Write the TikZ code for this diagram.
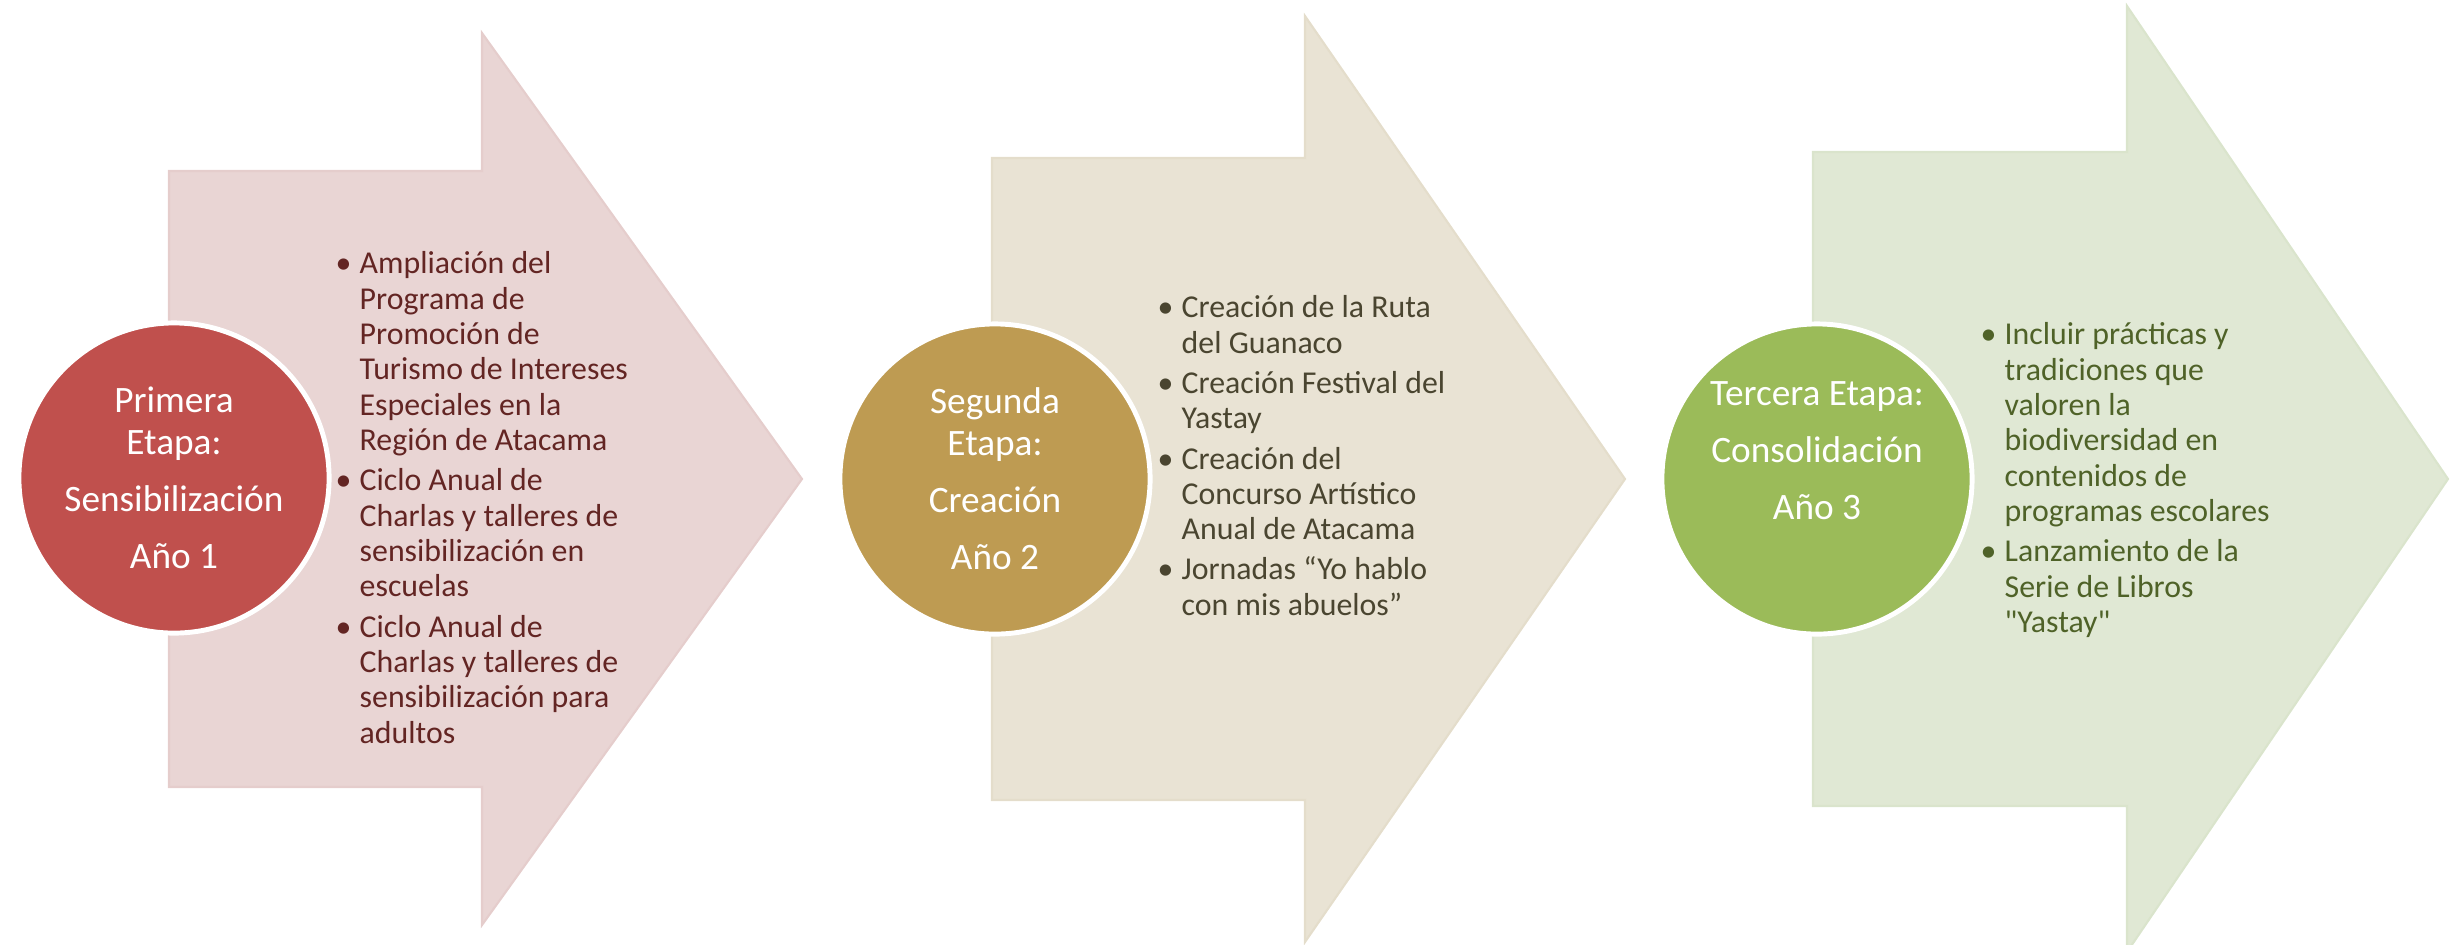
\documentclass[tikz,border=0pt]{standalone}
\usepackage{fontspec}
\setmainfont{Carlito}[Ligatures=TeXOff]
\usepackage{xcolor}

\definecolor{flechaUno}{HTML}{E9D5D4}
\definecolor{bordeUno}{HTML}{E5CDCC}
\definecolor{flechaDos}{HTML}{E9E3D4}
\definecolor{bordeDos}{HTML}{E4DDCB}
\definecolor{flechaTres}{HTML}{E0E8D4}
\definecolor{bordeTres}{HTML}{DAE4CC}
\definecolor{circUno}{HTML}{C0504D}
\definecolor{circDos}{HTML}{BE9B52}
\definecolor{circTres}{HTML}{9BBB59}
\definecolor{textoUno}{HTML}{632523}
\definecolor{textoDos}{HTML}{4A4530}
\definecolor{textoTres}{HTML}{4F6228}

\tikzset{
  etapa/.style={circle, draw=white, line width=1.4pt, minimum size=3.1cm,
    inner sep=0pt, text=white, align=center,
    font=\fontsize{10.6}{11.9}\selectfont},
  lista/.style={anchor=north west, inner sep=0pt, align=left,
    font=\fontsize{9.05}{10.05}\selectfont},
}
\newcommand{\bul}{\makebox[0.24cm][l]{•}}
\newcommand{\sig}{\hspace*{0.24cm}}

\begin{document}
\begin{tikzpicture}[x=0.01cm,y=-0.01cm]
\useasboundingbox (0,0) rectangle (2453,944);

% flechas
\foreach \xl/\xb/\xt/\hr/\hh/\col in {169/482/802/308/446/Uno,
                                      992/1305/1625/321/463/Dos,
                                      1813/2127/2448/327/473/Tres} {
\filldraw[fill=flecha\col, draw=borde\col, line width=0.6pt, line join=miter]
  (\xl,{479-\hr}) -- (\xb,{479-\hr}) -- (\xb,{479-\hh}) -- (\xt,479)
  -- (\xb,{479+\hh}) -- (\xb,{479+\hr}) -- (\xl,{479+\hr}) -- cycle;
}

% etapas
\node[etapa, fill=circUno] (e1) at (174,478)
  {Primera\\Etapa:\\[4.3pt]Sensibilización\\[4.3pt]Año 1};
\node[etapa, fill=circDos] (e2) at (995,479)
  {Segunda\\Etapa:\\[4.3pt]Creación\\[4.3pt]Año 2};
\node[etapa, fill=circTres] (e3) at (1817,479)
  {Tercera Etapa:\\[4.3pt]Consolidación\\[4.3pt]Año 3\\[4.3pt]\mbox{}};

% actividades
\node[lista, text=textoUno] (a1) at (335,251)
  {\bul Ampliación del\\ \sig Programa de\\ \sig Promoción de\\
   \sig Turismo de Intereses\\ \sig Especiales en la\\
   \sig Región de Atacama\\[1.4pt]
   \bul Ciclo Anual de\\ \sig Charlas y talleres de\\
   \sig sensibilización en\\ \sig escuelas\\[1.4pt]
   \bul Ciclo Anual de\\ \sig Charlas y talleres de\\
   \sig sensibilización para\\ \sig adultos};
\node[lista, text=textoDos] (a2) at (1157,295)
  {\bul Creación de la Ruta\\ \sig del Guanaco\\[1.4pt]
   \bul Creación Festival del\\ \sig Yastay\\[1.4pt]
   \bul Creación del\\ \sig Concurso Artístico\\
   \sig Anual de Atacama\\[1.4pt]
   \bul Jornadas “Yo hablo\\ \sig con mis abuelos”};
\node[lista, text=textoTres] (a3) at (1980,322)
  {\bul Incluir prácticas y\\ \sig tradiciones que\\ \sig valoren la\\
   \sig biodiversidad en\\ \sig contenidos de\\
   \sig programas escolares\\[1.4pt]
   \bul Lanzamiento de la\\ \sig Serie de Libros\\
   \sig "Yastay"};
\end{tikzpicture}
\end{document}
